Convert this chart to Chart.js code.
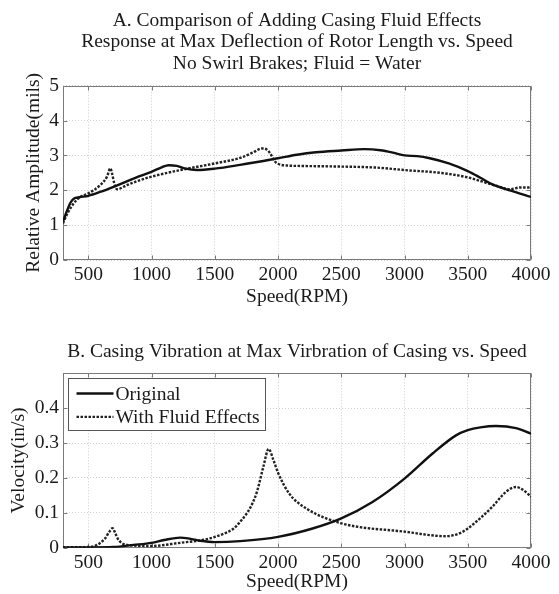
<!DOCTYPE html>
<html>
<head>
<meta charset="utf-8">
<script src="https://cdn.jsdelivr.net/npm/chart.js@4.4.1/dist/chart.umd.min.js"></script>
<style>
  body { margin: 0; background: #fff; }
  #wrapA { position: absolute; left: 0; top: 0; width: 559px; height: 315px; }
  #wrapB { position: absolute; left: 0; top: 300px; width: 559px; height: 294px; }
</style>
</head>
<body>
<div id="wrapA"><canvas id="chartA" width="559" height="315"></canvas></div>
<div id="wrapB"><canvas id="chartB" width="559" height="294"></canvas></div>
<script>
// --- A: rotor amplitude (mils) vs speed ---
const rpmA_orig = [300, 330, 360, 385, 430, 500, 600, 700, 800, 900, 1000, 1080, 1135, 1200, 1260, 1360, 1500, 1700, 2000, 2150, 2300, 2500, 2680, 2810, 2910, 3000, 3100, 3200, 3350, 3500, 3600, 3700, 3840, 4000];
const ampA_orig = [1.10, 1.40, 1.65, 1.76, 1.80, 1.84, 1.96, 2.10, 2.25, 2.40, 2.53, 2.66, 2.72, 2.70, 2.63, 2.58, 2.62, 2.73, 2.92, 3.02, 3.09, 3.14, 3.18, 3.15, 3.08, 3.00, 2.98, 2.92, 2.77, 2.55, 2.36, 2.16, 1.99, 1.81];
const rpmA_fluid = [300, 330, 384, 437, 500, 595, 648, 674, 690, 705, 727, 806, 900, 1000, 1227, 1500, 1702, 1800, 1873, 1910, 1940, 1970, 2000, 2071, 2150, 2500, 2782, 3000, 3283, 3500, 3704, 3836, 3915, 4000];
const ampA_fluid = [1.05, 1.30, 1.62, 1.81, 1.91, 2.15, 2.39, 2.63, 2.45, 2.20, 2.03, 2.15, 2.28, 2.39, 2.58, 2.77, 2.93, 3.08, 3.20, 3.17, 3.05, 2.85, 2.76, 2.71, 2.70, 2.68, 2.65, 2.58, 2.50, 2.37, 2.15, 2.03, 2.08, 2.08];

// --- B: casing velocity (in/s) vs speed ---
const rpmB_orig = [300, 500, 700, 858, 1000, 1100, 1227, 1300, 1385, 1500, 1702, 2000, 2273, 2500, 2747, 3000, 3222, 3407, 3500, 3600, 3723, 3881, 4000];
const velB_orig = [0.001, 0.001, 0.002, 0.008, 0.014, 0.022, 0.029, 0.026, 0.020, 0.016, 0.019, 0.031, 0.055, 0.084, 0.131, 0.198, 0.270, 0.322, 0.337, 0.345, 0.349, 0.343, 0.327];
const rpmB_fluid = [300, 500, 569, 634, 665, 692, 715, 740, 806, 1000, 1227, 1400, 1500, 1649, 1702, 1781, 1833, 1886, 1925, 1965, 2000, 2089, 2221, 2500, 3000, 3328, 3433, 3500, 3600, 3696, 3802, 3881, 3940, 4000];
const velB_fluid = [0.001, 0.002, 0.008, 0.027, 0.045, 0.056, 0.040, 0.022, 0.008, 0.005, 0.014, 0.022, 0.031, 0.055, 0.075, 0.115, 0.160, 0.235, 0.283, 0.250, 0.215, 0.155, 0.113, 0.070, 0.046, 0.033, 0.041, 0.055, 0.085, 0.118, 0.160, 0.174, 0.165, 0.146];

const seriesNames = ["Original", "With Fluid Effects"];
const speedTicks = [500, 1000, 1500, 2000, 2500, 3000, 3500, 4000];

const serif = "'Liberation Serif', 'Times New Roman', serif";
const ink = "#1a1a1a";
const fs = 19.5;

function pts(xs, ys) {
  return xs.map(function (x, i) { return { x: x, y: ys[i] }; });
}

// matlab style box with small inward ticks
const boxPlugin = {
  id: "boxPlugin",
  beforeDatasetsDraw(chart) {
    const a = chart.chartArea;
    const ctx = chart.ctx;
    const sx = chart.scales.x, sy = chart.scales.y;
    const l = Math.round(a.left) + 0.5, r = Math.round(a.right) - 0.5;
    const t = Math.round(a.top) + 0.5, b = Math.round(a.bottom) - 0.5;
    ctx.save();
    ctx.strokeStyle = "#7a7a7a";
    ctx.lineWidth = 1;
    ctx.strokeRect(l, t, r - l, b - t);
    ctx.beginPath();
    sx.ticks.forEach(function (tk) {
      const px = Math.round(sx.getPixelForValue(tk.value)) + 0.5;
      ctx.moveTo(px, b); ctx.lineTo(px, b - 4);
      ctx.moveTo(px, t); ctx.lineTo(px, t + 4);
    });
    sy.ticks.forEach(function (tk) {
      const py = Math.round(sy.getPixelForValue(tk.value)) + 0.5;
      ctx.moveTo(l, py); ctx.lineTo(l + 4, py);
      ctx.moveTo(r, py); ctx.lineTo(r - 4, py);
    });
    ctx.stroke();
    ctx.restore();
  }
};

// legend in the top left corner of plot B
const legendPlugin = {
  id: "legendPlugin",
  afterDraw(chart) {
    if (!chart.options.plugins.legendPlugin) return;
    const a = chart.chartArea;
    const ctx = chart.ctx;
    const x = Math.round(a.left) + 5.5, y = Math.round(a.top) + 5.5;
    ctx.save();
    ctx.fillStyle = "#fff";
    ctx.fillRect(x, y, 197, 52);
    ctx.strokeStyle = "#555";
    ctx.lineWidth = 1;
    ctx.strokeRect(x, y, 197, 52);
    ctx.font = fs + "px " + serif;
    ctx.textBaseline = "middle";
    chart.data.datasets.forEach(function (ds, i) {
      const ly = y + 15 + i * 23.4;
      ctx.strokeStyle = ds.borderColor;
      ctx.lineWidth = ds.borderWidth;
      ctx.setLineDash(ds.borderDash || []);
      ctx.beginPath();
      ctx.moveTo(x + 8, ly);
      ctx.lineTo(x + 45, ly);
      ctx.stroke();
      ctx.fillStyle = ink;
      ctx.fillText(ds.label, x + 47, ly + 1);
    });
    ctx.restore();
  }
};

function solid(label, data) {
  return { label: label, data: data, borderColor: "#111", borderWidth: 2.4, pointRadius: 0, cubicInterpolationMode: "monotone" };
}
function dotted(label, data) {
  return { label: label, data: data, borderColor: "#222", borderWidth: 2.4, borderDash: [2.5, 1.5], pointRadius: 0, cubicInterpolationMode: "monotone" };
}

function speedAxis(height, titleBottom) {
  return {
    type: "linear",
    min: 300,
    max: 4000,
    afterBuildTicks: function (s) { s.ticks = speedTicks.map(function (v) { return { value: v }; }); },
    afterFit: function (s) { s.height = height; },
    ticks: {
      padding: 3, maxRotation: 0, autoSkip: false, color: ink, font: { family: serif, size: fs },
      callback: function (v) { return String(v); }
    },
    grid: { color: "#cfcfcf", drawTicks: false },
    border: { display: false, dash: [1, 2] },
    title: { display: true, text: "Speed(RPM)", color: ink, font: { family: serif, size: fs }, padding: { top: 0, bottom: titleBottom } }
  };
}

function spacer(w) {
  return {
    position: "right",
    display: true,
    grid: { display: false, drawTicks: false },
    border: { display: false },
    ticks: { display: false },
    afterFit: function (s) { s.width = w; }
  };
}

var chartA = new Chart(document.getElementById("chartA"), {
  type: "line",
  data: {
    datasets: [
      solid(seriesNames[0], pts(rpmA_orig, ampA_orig)),
      dotted(seriesNames[1], pts(rpmA_fluid, ampA_fluid))
    ]
  },
  options: {
    responsive: false,
    animation: false,
    layout: { padding: 0 },
    scales: {
      x: speedAxis(55, 6.6),
      y: {
        min: 0,
        max: 5,
        afterFit: function (s) { s.width = 63; },
        ticks: { stepSize: 1, padding: 4, color: ink, font: { family: serif, size: fs } },
        grid: { color: "#cfcfcf", drawTicks: false },
        border: { display: false, dash: [1, 2] },
        title: { display: true, text: "Relative Amplitude(mils)", color: ink, font: { family: serif, size: fs }, padding: { top: 22.3, bottom: 0 } }
      },
      y2: spacer(28)
    },
    plugins: {
      legend: { display: false },
      tooltip: { enabled: false },
      title: {
        display: true,
        fullSize: false,
        text: ["A. Comparison of Adding Casing Fluid Effects", "Response at Max Deflection of Rotor Length vs. Speed", "No Swirl Brakes; Fluid = Water"],
        color: ink,
        font: { family: serif, size: fs, weight: "normal", lineHeight: "21.5px" },
        padding: { top: 10, bottom: 11.2 }
      }
    }
  },
  plugins: [boxPlugin]
});

var chartB = new Chart(document.getElementById("chartB"), {
  type: "line",
  data: {
    datasets: [
      solid(seriesNames[0], pts(rpmB_orig, velB_orig)),
      dotted(seriesNames[1], pts(rpmB_fluid, velB_fluid))
    ]
  },
  options: {
    responsive: false,
    animation: false,
    layout: { padding: 0 },
    scales: {
      x: speedAxis(46.3, 0.6),
      y: {
        min: 0,
        max: 0.5,
        afterFit: function (s) { s.width = 63; },
        ticks: {
          stepSize: 0.1,
          padding: 4,
          color: ink,
          font: { family: serif, size: fs },
          callback: function (v) {
            if (v > 0.45) return "";
            return v === 0 ? "0" : v.toFixed(1);
          }
        },
        grid: { color: "#cfcfcf", drawTicks: false },
        border: { display: false, dash: [1, 2] },
        title: { display: true, text: "Velocity(in/s)", color: ink, font: { family: serif, size: fs }, padding: { top: 7.3, bottom: 0 } }
      },
      y2: spacer(28)
    },
    plugins: {
      legend: { display: false },
      tooltip: { enabled: false },
      legendPlugin: true,
      title: {
        display: true,
        fullSize: false,
        text: "B. Casing Vibration at Max Virbration of Casing vs. Speed",
        color: ink,
        font: { family: serif, size: fs, weight: "normal", lineHeight: "21.5px" },
        padding: { top: 41, bottom: 10.8 }
      }
    }
  },
  plugins: [boxPlugin, legendPlugin]
});
</script>
</body>
</html>
